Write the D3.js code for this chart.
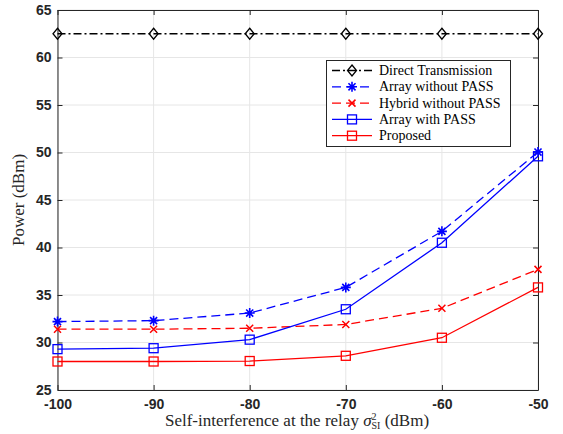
<!DOCTYPE html>
<html lang="en">
<head>
  <meta charset="UTF-8">
  <title>Power vs self-interference</title>
  <script src="https://cdn.jsdelivr.net/npm/d3@7"></script>
  <style>
    body { margin: 0; background: #fff; }
    .tick text { font-family: "Liberation Sans", Arial, sans-serif; font-weight: bold; font-size: 14px; fill: #262626; }
    .lbl { font-family: "Liberation Serif", "Times New Roman", serif; font-size: 17px; fill: #262626; }
    .leg { font-family: "Liberation Serif", "Times New Roman", serif; font-size: 14px; fill: #000; }
  </style>
</head>
<body>
<div id="chart"></div>
<script>
  var xVals = [-100, -90, -80, -70, -60, -50];
  var direct = [62.5, 62.5, 62.5, 62.5, 62.5, 62.5];
  var arrayNoPass = [32.2, 32.3, 33.1, 35.8, 41.7, 50.05];
  var hybridNoPass = [31.4, 31.4, 31.5, 31.9, 33.6, 37.7];
  var arrayPass = [29.3, 29.4, 30.3, 33.5, 40.5, 49.6];
  var proposed = [28.0, 28.0, 28.05, 28.6, 30.5, 35.8];
  var xTicks = [-100, -90, -80, -70, -60, -50];
  var yTicks = [25, 30, 35, 40, 45, 50, 55, 60, 65];

  var series = [
    {name: "Direct Transmission", vals: direct, color: "#000", dash: "8,3,2,3", marker: "diamond"},
    {name: "Array without PASS", vals: arrayNoPass, color: "#0000ff", dash: "9,5", marker: "star"},
    {name: "Hybrid without PASS", vals: hybridNoPass, color: "#ff0000", dash: "9,5", marker: "x"},
    {name: "Array with PASS", vals: arrayPass, color: "#0000ff", dash: null, marker: "square"},
    {name: "Proposed", vals: proposed, color: "#ff0000", dash: null, marker: "square"}
  ];

  var W = 563, H = 434;
  var m = {left: 57.5, top: 10, right: 25, bottom: 44};
  var svg = d3.select("#chart").append("svg").attr("width", W).attr("height", H);

  var x = d3.scaleLinear().domain([-100, -50]).range([m.left, W - m.right]);
  var y = d3.scaleLinear().domain([25, 65]).range([H - m.bottom, m.top]);
  var fmt = d => String(d);

  // grid
  var grid = svg.append("g");
  grid.selectAll("line.gx").data(xTicks).enter().append("line")
    .attr("x1", d => x(d)).attr("x2", d => x(d)).attr("y1", y(25)).attr("y2", y(65))
    .attr("stroke", "#e6e6e6").attr("stroke-width", 1);
  grid.selectAll("line.gy").data(yTicks).enter().append("line")
    .attr("y1", d => y(d)).attr("y2", d => y(d)).attr("x1", x(-100)).attr("x2", x(-50))
    .attr("stroke", "#e6e6e6").attr("stroke-width", 1);

  // axes
  svg.append("g").attr("transform", "translate(0," + y(25) + ")")
    .call(d3.axisBottom(x).tickValues(xTicks).tickFormat(fmt).tickSizeInner(-5).tickSizeOuter(0).tickPadding(9));
  svg.append("g").attr("transform", "translate(" + x(-100) + ",0)")
    .call(d3.axisLeft(y).tickValues(yTicks).tickFormat(fmt).tickSizeInner(-5).tickSizeOuter(0).tickPadding(6));
  svg.append("g").attr("transform", "translate(0," + y(65) + ")")
    .call(d3.axisTop(x).tickValues(xTicks).tickSizeInner(-5).tickSizeOuter(0).tickFormat(""));
  svg.append("g").attr("transform", "translate(" + x(-50) + ",0)")
    .call(d3.axisRight(y).tickValues(yTicks).tickSizeInner(-5).tickSizeOuter(0).tickFormat(""));
  svg.selectAll(".domain").attr("stroke", "#262626").attr("stroke-width", 1);
  svg.selectAll(".tick line").attr("stroke", "#262626");

  var line = d3.line().x((d, i) => x(xVals[i])).y(d => y(d));

  function drawMarker(g, type, cx, cy, color) {
    if (type === "diamond") {
      g.append("path").attr("d", "M" + cx + "," + (cy - 5.5) + "L" + (cx + 4.5) + "," + cy + "L" + cx + "," + (cy + 5.5) + "L" + (cx - 4.5) + "," + cy + "Z")
        .attr("fill", "none").attr("stroke", color).attr("stroke-width", 1.3);
    } else if (type === "square") {
      g.append("rect").attr("x", cx - 4.5).attr("y", cy - 4.5).attr("width", 9).attr("height", 9)
        .attr("fill", "none").attr("stroke", color).attr("stroke-width", 1.3);
    } else if (type === "x") {
      var s = 3.5;
      g.append("path").attr("d", "M" + (cx - s) + "," + (cy - s) + "L" + (cx + s) + "," + (cy + s) + "M" + (cx - s) + "," + (cy + s) + "L" + (cx + s) + "," + (cy - s))
        .attr("stroke", color).attr("stroke-width", 1.5);
    } else if (type === "star") {
      var r = 5, p = "";
      for (var k = 0; k < 4; k++) {
        var a = k * Math.PI / 4;
        p += "M" + (cx - r * Math.cos(a)) + "," + (cy - r * Math.sin(a)) + "L" + (cx + r * Math.cos(a)) + "," + (cy + r * Math.sin(a));
      }
      g.append("path").attr("d", p).attr("stroke", color).attr("stroke-width", 1.6);
    }
  }

  series.forEach(function(s) {
    var g = svg.append("g");
    g.append("path").datum(s.vals).attr("d", line)
      .attr("fill", "none").attr("stroke", s.color).attr("stroke-width", 1.3)
      .attr("stroke-dasharray", s.dash);
    s.vals.forEach(function(v, i) { drawMarker(g, s.marker, x(xVals[i]), y(v), s.color); });
  });

  // legend
  var lg = svg.append("g");
  lg.append("rect").attr("x", 326.5).attr("y", 60.5).attr("width", 184).attr("height", 86)
    .attr("fill", "#fff").attr("stroke", "#262626").attr("stroke-width", 1);
  series.forEach(function(s, i) {
    var ly = 70.5 + i * 16.3;
    lg.append("line").attr("x1", 332).attr("x2", 372).attr("y1", ly).attr("y2", ly)
      .attr("stroke", s.color).attr("stroke-width", 1.3).attr("stroke-dasharray", s.dash);
    drawMarker(lg, s.marker, 352, ly, s.color);
    lg.append("text").attr("class", "leg").attr("x", 379).attr("y", ly + 4.5).text(s.name);
  });

  // axis labels
  var xl = svg.append("text").attr("class", "lbl").attr("x", 297).attr("y", 426).attr("text-anchor", "middle");
  xl.append("tspan").text("Self-interference at the relay ");
  xl.append("tspan").attr("font-style", "italic").text("σ");
  xl.append("tspan").attr("font-size", "10px").attr("dy", -6).text("2");
  xl.append("tspan").attr("font-size", "10px").attr("dx", -5).attr("dy", 9).text("SI");
  xl.append("tspan").attr("dy", -3).text(" (dBm)");

  svg.append("text").attr("class", "lbl").attr("text-anchor", "middle")
    .attr("transform", "translate(24," + y(45) + ") rotate(-90)").text("Power (dBm)");
</script>
</body>
</html>
